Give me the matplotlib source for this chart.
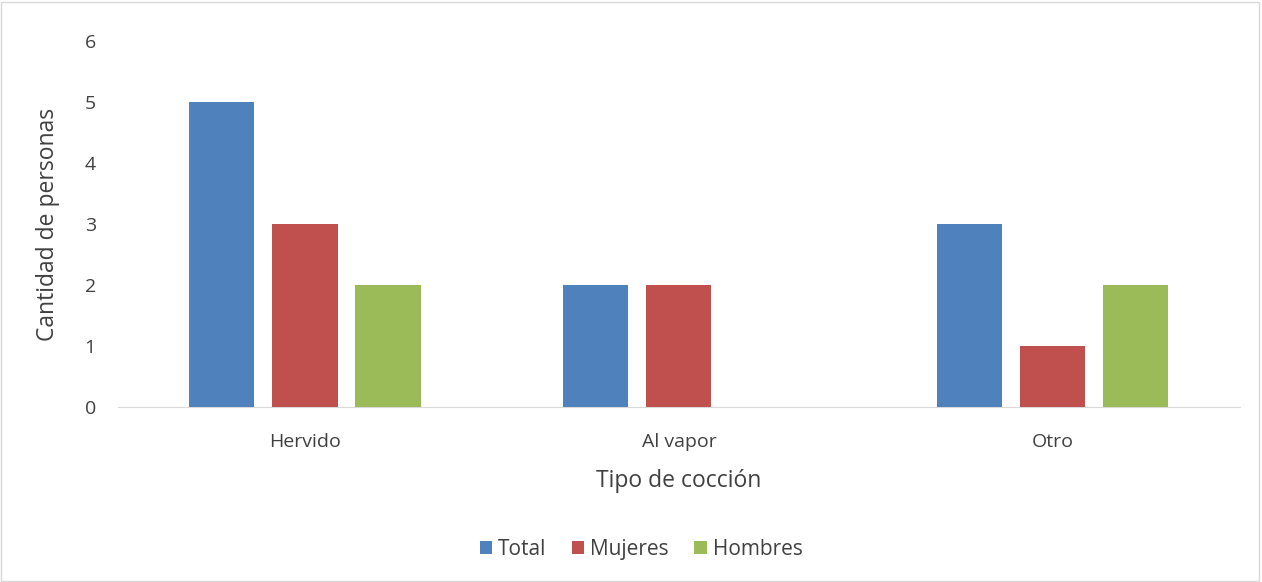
import numpy as np
import matplotlib.pyplot as plt
from matplotlib.patches import Rectangle

plt.rcParams['font.family'] = ['Open Sans', 'DejaVu Sans']

categorias = ['Hervido', 'Al vapor', 'Otro']
series = ['Total', 'Mujeres', 'Hombres']
total = [5, 2, 3]
mujeres = [3, 2, 1]
hombres = [2, 0, 2]
colores = ['#4F81BD', '#C0504D', '#9BBB59']

fig = plt.figure(figsize=(12.62, 5.82), dpi=100)
ax = fig.add_axes([0.0935, 0.3007, 0.889, 0.6289])

x = np.arange(len(categorias))
ancho = 0.174
paso = 0.222
for i, (nombre, vals) in enumerate(zip(series, [total, mujeres, hombres])):
    ax.bar(x + (i - 1) * paso, vals, ancho, color=colores[i], label=nombre, zorder=3)

ax.set_xlim(-0.5, 2.5)
ax.set_ylim(0, 6)
ax.set_yticks(range(0, 7))
ax.set_xticks(x)
ax.set_xticklabels(categorias)
ax.tick_params(axis='both', length=0, labelsize=14, colors='#404040')
ax.tick_params(axis='x', pad=19)
ax.tick_params(axis='y', pad=16)
for s in ['top', 'right', 'left']:
    ax.spines[s].set_visible(False)
ax.spines['bottom'].set_color('#D9D9D9')

ax.set_xlabel('Tipo de cocción', fontsize=16.5, color='#404040', labelpad=13)
ax.set_ylabel('Cantidad de personas', fontsize=16.5, color='#404040', labelpad=18)

fig.legend(*ax.get_legend_handles_labels(), loc='center', bbox_to_anchor=(0.508, 0.056),
           ncol=3, frameon=False, fontsize=15, handlelength=0.6, handleheight=0.6,
           handletextpad=0.3, columnspacing=1.2, labelcolor='#404040')

fig.patches.append(Rectangle((0.001, 0.001), 0.997, 0.996, transform=fig.transFigure,
                             fill=False, edgecolor='#D9D9D9', linewidth=1))

fig.savefig('out.png', dpi=100)
